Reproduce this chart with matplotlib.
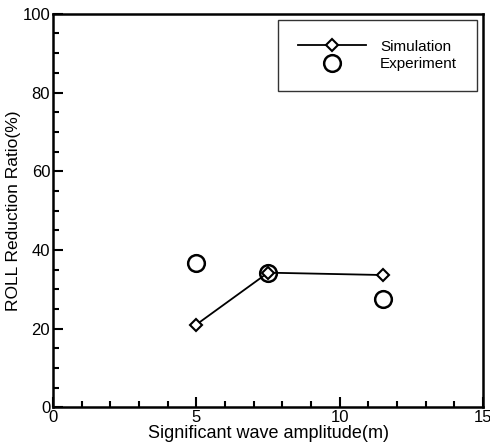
import matplotlib
matplotlib.use("Agg")
from matplotlib import pyplot as plt
from matplotlib.ticker import MultipleLocator

plt.rcParams['font.family'] = ['Liberation Sans', 'DejaVu Sans']

# data
sim_x = [5.0, 7.5, 11.5]
sim_y = [21.0, 34.2, 33.6]
exp_x = [5.0, 7.5, 11.5]
exp_y = [36.6, 34.0, 27.5]

fig = plt.figure(figsize=(4.9, 4.46), dpi=100)
ax = fig.add_axes([0.108, 0.087, 0.878, 0.882])

ax.plot(sim_x, sim_y, color='black', lw=1.3, marker='D', ms=6,
        mfc='white', mec='black', mew=1.5, label='Simulation')
ax.plot(exp_x, exp_y, ls='none', marker='o', ms=12,
        mfc='none', mec='black', mew=1.8, label='Experiment')

ax.set_xlim(0, 15)
ax.set_ylim(0, 100)
ax.xaxis.set_major_locator(MultipleLocator(5))
ax.xaxis.set_minor_locator(MultipleLocator(1))
ax.yaxis.set_major_locator(MultipleLocator(20))
ax.yaxis.set_minor_locator(MultipleLocator(5))
ax.tick_params(which='both', direction='in', top=False, right=False,
               labelsize=12, width=1.5)
ax.tick_params(which='major', length=7, pad=2)
ax.tick_params(which='minor', length=4)
for s in ax.spines.values():
    s.set_linewidth(1.8)

ax.set_xlabel('Significant wave amplitude(m)', fontsize=13, labelpad=0)
ax.set_ylabel('ROLL Reduction Ratio(%)', fontsize=12.5, labelpad=1)

leg = ax.legend(loc='upper right', fontsize=11, frameon=True, fancybox=False,
                edgecolor='black', handlelength=4.5, borderpad=1.3,
                labelspacing=0.2, borderaxespad=0.4, handletextpad=0.9)
leg.get_frame().set_linewidth(1.0)

fig.savefig('out.png', dpi=100)
